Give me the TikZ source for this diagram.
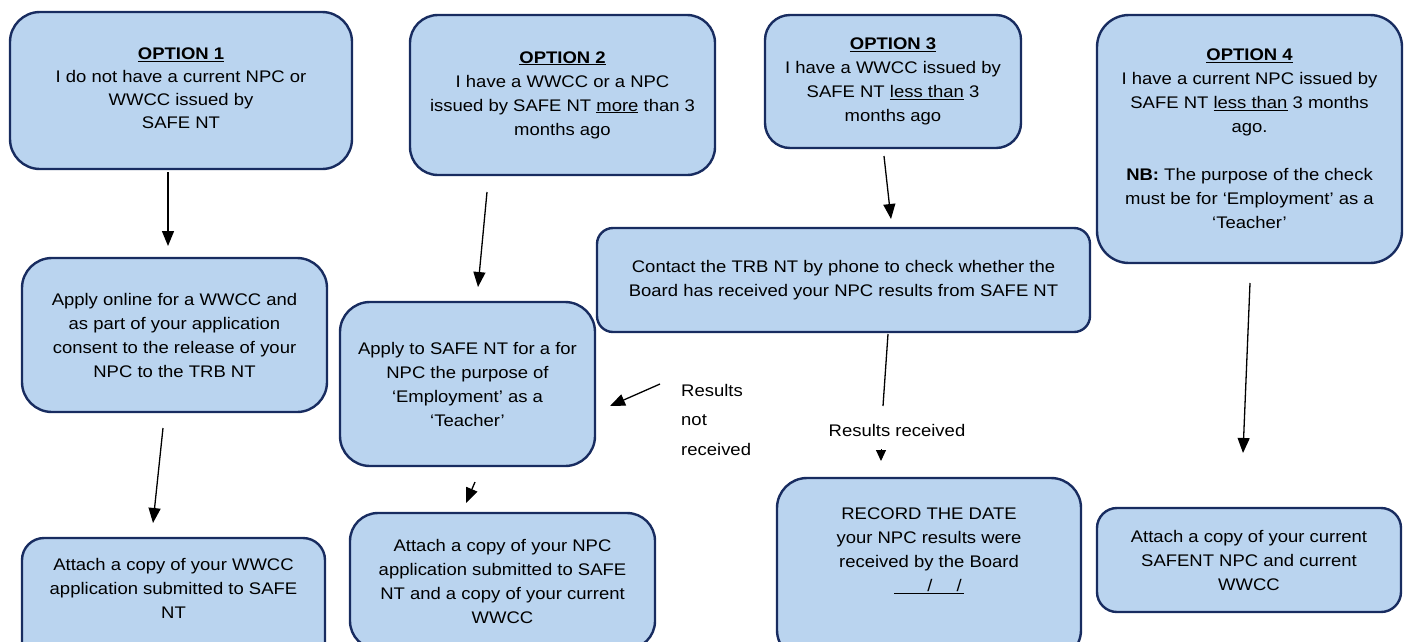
\documentclass[tikz,border=0pt]{standalone}
\usepackage{fontspec}
\setmainfont[FakeStretch=1.1]{Liberation Sans}
\usetikzlibrary{arrows.meta}

\definecolor{boxfill}{RGB}{186,212,239}
\definecolor{boxline}{RGB}{24,44,96}

\tikzset{
  stepbox/.style={draw=boxline, line width=2.4pt, fill=boxfill, inner sep=0pt,
    align=center, font=\fontsize{16.8}{24}\selectfont, text=black},
  plaintext/.style={inner sep=0pt, font=\fontsize{16.8}{24}\selectfont, text=black},
  arr/.style={line width=1.3pt, -{Triangle[length=15pt,width=12pt]}},
  stem/.style={line width=1.3pt},
}

\begin{document}
\begin{tikzpicture}[x=1pt, y=-1pt]
\useasboundingbox (0,0) rectangle (1405,641);
\clip (0,0) rectangle (1405,641);

% option boxes along the top
\node[stepbox, minimum width=342pt, minimum height=157pt, rounded corners=30pt,
      font=\fontsize{16.8}{23}\selectfont] (opt1) at (181,90.5) {};
\node[plaintext, align=center, font=\fontsize{16.8}{23}\selectfont] (opt1text) at (181,88)
  {\underline{\textbf{OPTION 1}}\\I do not have a current NPC or\\WWCC issued by\\SAFE NT};
\node[stepbox, minimum width=305pt, minimum height=160pt, rounded corners=28pt] (opt2) at (562.5,95)
  {\underline{\textbf{OPTION 2}}\\I have a WWCC or a NPC\\issued by SAFE NT \underline{more} than 3\\months ago};
\node[stepbox, minimum width=256pt, minimum height=133pt, rounded corners=25pt] (opt3) at (893,81.5)
  {\underline{\textbf{OPTION 3}}\\I have a WWCC issued by\\SAFE NT \underline{less than} 3\\months ago};
\node[stepbox, minimum width=305pt, minimum height=248pt, rounded corners=32pt] (opt4) at (1249.5,139)
  {\underline{\textbf{OPTION 4}}\\I have a current NPC issued by\\SAFE NT \underline{less than} 3 months\\ago.\\[24pt]\textbf{NB:} The purpose of the check\\must be for ‘Employment’ as a\\‘Teacher’};

% middle row
\node[stepbox, minimum width=305pt, minimum height=154pt, rounded corners=30pt] (online) at (174.5,335)
  {Apply online for a WWCC and\\as part of your application\\consent to the release of your\\NPC to the TRB NT};
\node[stepbox, minimum width=255pt, minimum height=164pt, rounded corners=30pt] (applynpc) at (467.5,384)
  {Apply to SAFE NT for a for\\NPC the purpose of\\‘Employment’ as a\\‘Teacher’};
\node[stepbox, minimum width=493pt, minimum height=104pt, rounded corners=16pt] (contact) at (843.5,280)
  {Contact the TRB NT by phone to check whether the\\Board has received your NPC results from SAFE NT};

% bottom row
\node[stepbox, minimum width=303pt, minimum height=132pt, rounded corners=22pt] (attwwcc) at (173.5,604) {};
\node[plaintext, align=center] (attwwcctext) at (173.5,588)
  {Attach a copy of your WWCC\\application submitted to SAFE\\NT};
\node[stepbox, minimum width=305pt, minimum height=136pt, rounded corners=28pt] (attnpc) at (502.5,581)
  {Attach a copy of your NPC\\application submitted to SAFE\\NT and a copy of your current\\WWCC};
\node[stepbox, minimum width=304pt, minimum height=182pt, rounded corners=30pt] (record) at (929,569) {};
\node[plaintext, align=center] (recordtext) at (929,551)
  {RECORD THE DATE\\your NPC results were\\received by the Board\\\underline{\hspace{33pt}/\hspace{24pt}/\hspace{2pt}}};
\node[stepbox, minimum width=304pt, minimum height=104pt, rounded corners=20pt] (attcur) at (1249,560)
  {Attach a copy of your current\\SAFENT NPC and current\\WWCC};

% free labels
\node[plaintext, align=left, anchor=west, font=\fontsize{16.8}{29.5}\selectfont] (notrec) at (681,419.5)
  {Results\\not\\received};
\node[plaintext] (rec) at (897,430) {Results received};

% connector end points
\coordinate (a1s) at (168,172);   \coordinate (a1e) at (168,246);
\coordinate (a2s) at (163,428);   \coordinate (a2e) at (153,523);
\coordinate (a3s) at (487,192);   \coordinate (a3e) at (478,287);
\coordinate (a4s) at (475,482);   \coordinate (a4e) at (466,503);
\coordinate (a5s) at (660,384);   \coordinate (a5e) at (610,406);
\coordinate (a6s) at (884,156);   \coordinate (a6e) at (891,219);
\coordinate (a7s) at (888,334);   \coordinate (a7e) at (883,406);
\coordinate (a8s) at (881,449);   \coordinate (a8e) at (881,461);
\coordinate (a9s) at (1250,283);  \coordinate (a9e) at (1243,453);

% connectors
\draw[arr] (a1s) -- (a1e);
\draw[arr] (a2s) -- (a2e);
\draw[arr] (a3s) -- (a3e);
\draw[arr] (a4s) -- (a4e);
\draw[arr] (a5s) -- (a5e);
\draw[arr] (a6s) -- (a6e);
\draw[stem] (a7s) -- (a7e);
\draw[line width=1pt, -{Triangle[length=11pt,width=10pt]}] (a8s) -- (a8e);
\draw[arr] (a9s) -- (a9e);
\end{tikzpicture}
\end{document}
